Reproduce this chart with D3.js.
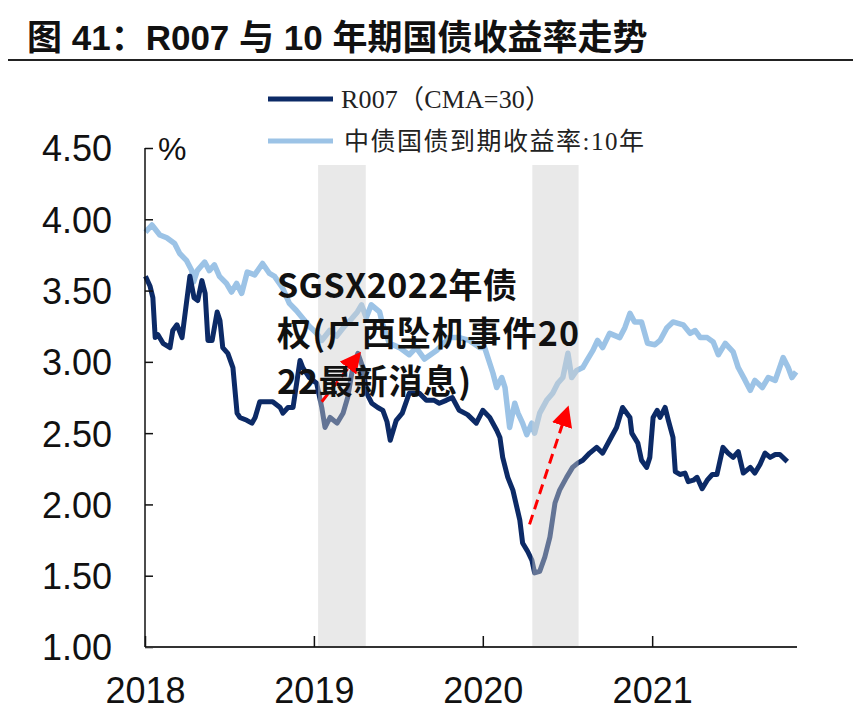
<!DOCTYPE html>
<html><head><meta charset="utf-8">
<script src="https://cdn.jsdelivr.net/npm/d3@7"></script>
<style>body{margin:0;background:#fff}svg{display:block}</style>
</head><body>
<script>
const r007Dates = ["2018-01-02","2018-01-12","2018-01-18","2018-01-23","2018-01-29","2018-02-09","2018-02-24","2018-03-02","2018-03-11","2018-03-22","2018-04-02","2018-04-08","2018-04-17","2018-04-25","2018-05-04","2018-05-11","2018-05-17","2018-05-26","2018-06-06","2018-06-12","2018-06-18","2018-06-29","2018-07-10","2018-07-19","2018-07-25","2018-08-09","2018-08-20","2018-08-27","2018-09-06","2018-09-22","2018-10-04","2018-10-20","2018-10-26","2018-11-06","2018-11-17","2018-12-02","2018-12-08","2018-12-22","2019-01-07","2019-01-18","2019-01-25","2019-02-05","2019-02-20","2019-03-05","2019-03-15","2019-03-26","2019-04-06","2019-04-17","2019-04-25","2019-05-06","2019-05-19","2019-05-30","2019-06-08","2019-06-15","2019-06-28","2019-07-11","2019-07-26","2019-08-17","2019-09-01","2019-09-18","2019-09-29","2019-10-14","2019-10-27","2019-11-11","2019-11-29","2019-12-18","2020-01-01","2020-01-16","2020-01-31","2020-02-07","2020-02-13","2020-02-24","2020-03-06","2020-03-21","2020-03-27","2020-04-07","2020-04-16","2020-04-22","2020-05-03","2020-05-14","2020-05-25","2020-06-05","2020-06-15","2020-06-30","2020-07-13","2020-07-24","2020-08-04","2020-08-19","2020-09-03","2020-09-16","2020-10-01","2020-10-16","2020-10-29","2020-11-14","2020-11-18","2020-12-01","2020-12-09","2020-12-20","2020-12-27","2021-01-03","2021-01-12","2021-01-18","2021-01-29","2021-02-05","2021-02-15","2021-02-20","2021-03-02","2021-03-13","2021-03-20","2021-03-31","2021-04-08","2021-04-19","2021-04-30","2021-05-11","2021-05-21","2021-06-03","2021-06-14","2021-06-25","2021-07-06","2021-07-17","2021-08-01","2021-08-11","2021-08-22","2021-09-02","2021-09-13","2021-09-24","2021-10-04","2021-10-20"];
const r007Values = [3.60,3.53,3.45,3.17,3.19,3.13,3.10,3.22,3.26,3.17,3.45,3.60,3.45,3.43,3.57,3.48,3.15,3.15,3.35,3.29,3.10,3.06,2.96,2.64,2.61,2.59,2.57,2.61,2.72,2.72,2.72,2.68,2.64,2.68,2.68,3.01,2.96,2.89,2.85,2.68,2.54,2.61,2.57,2.64,2.75,2.96,3.06,2.96,2.78,2.71,2.68,2.66,2.58,2.45,2.59,2.64,2.78,2.78,2.73,2.73,2.71,2.73,2.75,2.66,2.63,2.57,2.66,2.61,2.52,2.47,2.33,2.19,2.10,1.89,1.73,1.67,1.61,1.52,1.53,1.63,1.77,2.01,2.10,2.19,2.26,2.29,2.31,2.36,2.40,2.36,2.45,2.54,2.68,2.61,2.50,2.43,2.31,2.26,2.33,2.61,2.66,2.61,2.68,2.59,2.47,2.23,2.21,2.22,2.16,2.17,2.19,2.11,2.17,2.21,2.21,2.40,2.36,2.33,2.37,2.22,2.26,2.22,2.28,2.36,2.33,2.35,2.35,2.30];

const cgbDates = ["2018-01-02","2018-01-16","2018-02-02","2018-02-17","2018-03-06","2018-03-17","2018-04-01","2018-04-12","2018-04-16","2018-04-24","2018-05-10","2018-05-20","2018-05-31","2018-06-11","2018-06-26","2018-07-07","2018-07-18","2018-07-29","2018-08-10","2018-08-26","2018-09-12","2018-09-27","2018-10-08","2018-10-25","2018-11-09","2018-11-24","2018-12-07","2018-12-22","2019-01-07","2019-01-18","2019-02-04","2019-02-19","2019-03-08","2019-03-23","2019-04-05","2019-04-14","2019-04-24","2019-05-05","2019-05-23","2019-05-29","2019-06-13","2019-07-05","2019-07-26","2019-08-10","2019-08-28","2019-09-23","2019-10-21","2019-11-11","2019-12-03","2019-12-25","2020-01-05","2020-01-23","2020-01-31","2020-02-11","2020-02-18","2020-02-28","2020-03-10","2020-03-17","2020-03-27","2020-04-05","2020-04-16","2020-04-22","2020-05-03","2020-05-18","2020-05-31","2020-06-11","2020-06-22","2020-07-03","2020-07-11","2020-07-22","2020-08-04","2020-08-13","2020-08-26","2020-09-05","2020-09-16","2020-10-01","2020-10-23","2020-11-03","2020-11-14","2020-11-24","2020-12-09","2020-12-22","2021-01-07","2021-01-18","2021-02-02","2021-02-15","2021-03-09","2021-03-24","2021-04-04","2021-04-15","2021-04-30","2021-05-13","2021-05-24","2021-06-08","2021-06-25","2021-07-06","2021-07-21","2021-08-01","2021-08-11","2021-08-27","2021-09-09","2021-09-24","2021-10-11","2021-10-22","2021-10-30","2021-11-08"];
const cgbValues = [3.91,3.96,3.89,3.87,3.83,3.76,3.71,3.64,3.56,3.64,3.70,3.64,3.68,3.60,3.55,3.49,3.55,3.48,3.63,3.61,3.69,3.62,3.60,3.52,3.41,3.36,3.31,3.25,3.20,3.15,3.22,3.18,3.25,3.30,3.35,3.40,3.31,3.40,3.35,3.27,3.13,3.10,3.05,3.10,3.02,3.08,3.17,3.17,3.15,3.10,3.10,2.92,2.82,2.89,2.82,2.54,2.71,2.64,2.57,2.49,2.57,2.50,2.64,2.73,2.78,2.85,2.89,3.06,2.89,2.94,2.96,3.01,3.08,3.15,3.10,3.20,3.17,3.24,3.34,3.28,3.28,3.13,3.12,3.15,3.24,3.28,3.26,3.20,3.22,3.17,3.17,3.14,3.05,3.13,3.07,2.96,2.87,2.80,2.87,2.82,2.89,2.87,3.03,2.96,2.89,2.93];

const yTicks = [1.00,1.50,2.00,2.50,3.00,3.50,4.00,4.50];
const xTickYears = ["2018","2019","2020","2021"];
const shadeStarts = ["2019-01-10","2020-04-17"];
const shadeEnds = ["2019-04-23","2020-07-26"];
const arrowFromDates = ["2019-01-18","2020-04-11"];
const arrowFromValues = [2.72,1.86];
const arrowToDates = ["2019-04-10","2020-07-03"];
const arrowToValues = [3.06,2.68];
const seriesNames = ["R007（CMA=30）","中债国债到期收益率:10年"];
const titleText = "图 41：R007 与 10 年期国债收益率走势";
const overlayLines = ["SGSX2022年债","权(广西坠机事件20","22最新消息)"];

const W = 853, H = 727;
const parse = d3.timeParse("%Y-%m-%d");
const svg = d3.select("body").append("svg").attr("width", W).attr("height", H);

const x = d3.scaleTime().domain([new Date(2018,0,1), new Date(2021,10,10)]).range([145,797]);
const y = d3.scaleLinear().domain([1,4.5]).range([647,148]);

// title
svg.append("text").attr("x",27).attr("y",50)
  .attr("font-family","'Liberation Sans','Noto Sans CJK SC',sans-serif")
  .attr("font-weight","bold").attr("font-size",35).attr("fill","#111")
  .text(titleText);
svg.append("line").attr("x1",8).attr("x2",853).attr("y1",60).attr("y2",60)
  .attr("stroke","#222").attr("stroke-width",2.2);

// legend
const legColors = ["#0c2a66","#9cc3e6"];
const legY = [99,141];
const legLen = [210,300];
seriesNames.forEach((n,i)=>{
  svg.append("line").attr("x1",268).attr("x2",333).attr("y1",legY[i]).attr("y2",legY[i])
    .attr("stroke",legColors[i]).attr("stroke-width",5);
  svg.append("text").attr("x",341 + i*3).attr("y",legY[i]+9)
    .attr("font-family","'Liberation Serif','Noto Sans CJK SC',serif")
    .attr("font-size",i===0?26:25).attr("fill","#222")
    .attr("textLength",legLen[i]).attr("lengthAdjust","spacing").text(n);
});

// lines
const r007 = r007Dates.map((d,i)=>({d:parse(d),v:r007Values[i]}));
const cgb = cgbDates.map((d,i)=>({d:parse(d),v:cgbValues[i]}));
const line = d3.line().x(p=>x(p.d)).y(p=>y(p.v)).curve(d3.curveLinear);
svg.append("path").datum(cgb).attr("d",line).attr("fill","none")
  .attr("stroke","#9cc3e6").attr("stroke-width",5.5).attr("stroke-linejoin","round");
svg.append("path").datum(r007).attr("d",line).attr("fill","none")
  .attr("stroke","#0c2a66").attr("stroke-width",5).attr("stroke-linejoin","round");

// shaded periods (over lines)
shadeStarts.forEach((s,i)=>{
  const x0 = x(parse(s)), x1 = x(parse(shadeEnds[i]));
  svg.append("rect").attr("x",x0).attr("width",x1-x0)
    .attr("y",165).attr("height",y(1)-165)
    .attr("fill","#cfcfcf").attr("fill-opacity",0.45);
});

// axes
const yAxis = d3.axisLeft(y).tickValues(yTicks).tickFormat(d3.format(".2f")).tickSize(-8).tickPadding(33);
const gy = svg.append("g").attr("transform","translate(145,0)").call(yAxis);
gy.select(".domain").attr("stroke","#111").attr("stroke-width",1.5).attr("d","M0,148V647");
gy.selectAll(".tick line").attr("stroke","#111").attr("stroke-width",1.5);
gy.selectAll(".tick text").attr("font-family","'Liberation Sans',Arial,sans-serif")
  .attr("font-size",36).attr("fill","#111").attr("dy","0.36em");

const xAxis = d3.axisBottom(x).tickValues(xTickYears.map(t=>parse(t+"-01-01")))
  .tickFormat(d3.timeFormat("%Y")).tickSize(-11).tickPadding(30);
const gx = svg.append("g").attr("transform","translate(0,647)").call(xAxis);
gx.select(".domain").attr("stroke","#333").attr("stroke-width",2).attr("d","M145,0H797");
gx.selectAll(".tick line").attr("stroke","#111").attr("stroke-width",1.5);
gx.selectAll(".tick text").attr("font-family","'Liberation Sans',Arial,sans-serif")
  .attr("font-size",36).attr("fill","#111");

svg.append("text").attr("x",158).attr("y",160)
  .attr("font-family","'Liberation Sans',Arial,sans-serif").attr("font-size",32).attr("fill","#111").text("%");

// arrows
const defs = svg.append("defs");
defs.append("marker").attr("id","ah").attr("viewBox","0 0 10 10").attr("refX",9).attr("refY",5)
  .attr("markerWidth",7).attr("markerHeight",7).attr("orient","auto").attr("markerUnits","strokeWidth")
  .append("path").attr("d","M0,0L10,5L0,10Z").attr("fill","#ff0000");
arrowFromDates.forEach((d,i)=>{
  svg.append("line")
    .attr("x1",x(parse(d))).attr("y1",y(arrowFromValues[i]))
    .attr("x2",x(parse(arrowToDates[i]))).attr("y2",y(arrowToValues[i]))
    .attr("stroke","#ff0000").attr("stroke-width",3).attr("stroke-dasharray","10,6")
    .attr("marker-end","url(#ah)");
});

// overlay text
const overlayLen = [240,302,194];
overlayLines.forEach((t,i)=>{
  svg.append("text").attr("x",277).attr("y",298+i*48)
    .attr("font-family","'Noto Sans CJK SC','Noto Sans',sans-serif")
    .attr("font-weight","bold").attr("font-size",34).attr("fill","#111")
    .attr("textLength",overlayLen[i]).attr("lengthAdjust","spacing").text(t);
});
</script>
</body></html>
